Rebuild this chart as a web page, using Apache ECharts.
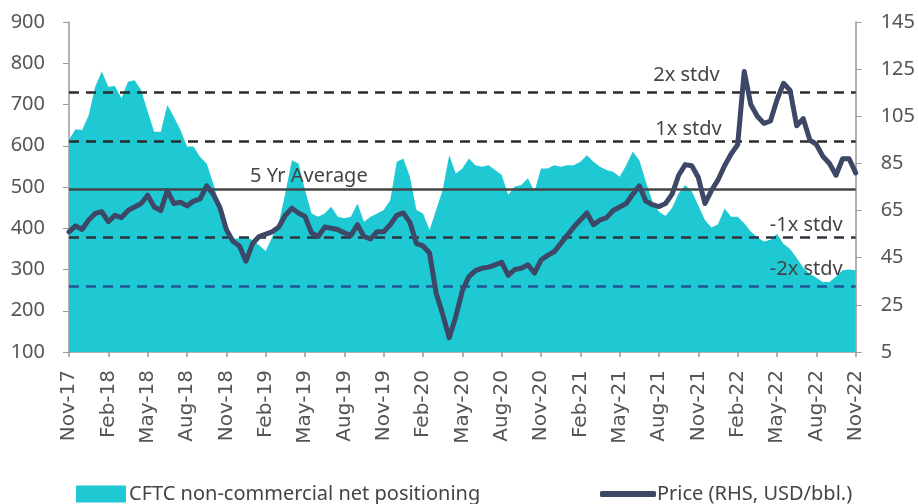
<!DOCTYPE html>
<html>
<head>
<meta charset="utf-8">
<script src="https://cdn.jsdelivr.net/npm/echarts@6.0.0/dist/echarts.min.js"></script>
<style>
  html, body { margin: 0; padding: 0; background: #fff; }
  #chart { width: 918px; height: 504px; }
</style>
</head>
<body>
<div id="chart"></div>
<script>
// half-monthly points, Nov-17 .. Nov-22
const MONTHS = ['Jan', 'Feb', 'Mar', 'Apr', 'May', 'Jun', 'Jul', 'Aug', 'Sep', 'Oct', 'Nov', 'Dec']
const periods = []
for (let m = 0; m <= 60; m++) {
  const label = MONTHS[(10 + m) % 12] + '-' + (17 + Math.floor((10 + m) / 12))
  periods.push(label)
  if (m < 60) periods.push(label + ' (mid)')
}

// CFTC non-commercial net positioning (LHS)
const positioning = [
  615, 640, 638, 674, 743, 780, 743, 745, 715, 755,
  759, 735, 683, 634, 634, 699, 670, 638, 598, 598,
  573, 557, 509, 452, 396, 375, 375, 380, 371, 359,
  345, 379, 412, 485, 565, 557, 493, 436, 428, 436,
  452, 428, 424, 428, 460, 416, 428, 436, 444, 468,
  561, 569, 525, 444, 436, 396, 444, 493, 577, 533,
  545, 569, 553, 549, 553, 541, 529, 481, 501, 505,
  521, 489, 545, 545, 553, 549, 553, 553, 561, 577,
  561, 549, 541, 537, 525, 553, 586, 565, 512, 465,
  440, 430, 450, 485, 505, 490, 455, 420, 402, 410,
  448, 428, 428, 412, 392, 378, 368, 372, 386, 362,
  350, 328, 305, 290, 280, 270, 270, 283, 298, 300,
  298
]

// Price (RHS, USD/bbl.)
const price = [
  56, 58.5, 57, 61, 63.8, 64.5, 60.3, 63, 62, 65,
  66.5, 68, 71.5, 66.5, 65, 73.5, 68, 68.5, 67, 69,
  70, 75.5, 72, 66.5, 57, 52, 50, 43.5, 51, 54,
  55, 56, 58, 63, 66, 64, 62.5, 55.5, 54, 58,
  57.5, 57, 55.5, 54.5, 59, 54, 53, 56, 56, 59,
  63, 64, 60, 51, 50, 47, 30, 21, 11, 20,
  31, 37, 39.5, 40.5, 41, 42, 43, 37.5, 40, 40.5,
  42, 38.5, 44, 46, 47.5, 51, 54.5, 58, 61, 64,
  59, 61, 62, 65, 66.5, 68, 72, 75.5, 69, 67.5,
  66.7, 68, 72, 80, 84.5, 84, 79, 68, 73.5, 78,
  84, 89, 93, 124, 110, 105, 102, 103, 112, 119,
  116, 101, 104, 95, 93, 88, 85, 80, 87, 87,
  81
]

// reference levels on the positioning axis
const refLevels = [730, 612, 495, 378, 260]
const refNames = ['2x stdv', '1x stdv', '5 Yr Average', '-1x stdv', '-2x stdv']

const refLook = [
  { type: [10, 7], color: '#2b2b2b', pos: 'insideEndTop', dist: [136, 7] },
  { type: [10, 7], color: '#2b2b2b', pos: 'insideEndTop', dist: [134, 2] },
  { type: 'solid', color: '#454545', pos: 'insideStartTop', dist: [181, 3] },
  { type: [10, 7], color: '#2e3540', pos: 'insideEndTop', dist: [13, 2] },
  { type: [10, 7], color: '#1f5694', pos: 'insideEndTop', dist: [13, 7] }
]

const teal = '#1fc9d3'
const navy = '#3c4866'
const axisGrey = '#9a9a9a'
const textGrey = '#555'

const chart = echarts.init(document.getElementById('chart'))

const option = {
  animation: false,
  backgroundColor: '#fff',
  grid: { left: 69, right: 61, top: 22, bottom: 152 },
  legend: [
    {
      left: 71,
      top: 479,
      itemWidth: 50,
      itemHeight: 17,
      itemGap: 5,
      data: [{ name: 'CFTC non-commercial net positioning', icon: 'rect' }],
      textStyle: { color: '#444', fontSize: 20, fontFamily: 'Noto Sans', padding: [0, 0, 0, -2] }
    },
    {
      left: 595,
      top: 479,
      itemWidth: 56,
      itemHeight: 6,
      data: [{ name: 'Price (RHS, USD/bbl.)', icon: 'roundRect', itemStyle: { color: navy } }],
      textStyle: { color: '#444', fontSize: 20, fontFamily: 'Noto Sans', padding: [0, 0, 0, -4] }
    }
  ],
  xAxis: {
    type: 'category',
    data: periods,
    boundaryGap: false,
    axisLine: { lineStyle: { color: axisGrey, width: 1.5 } },
    axisTick: { interval: 5, length: 5, lineStyle: { color: axisGrey, width: 1.5 } },
    axisLabel: {
      interval: 5,
      rotate: 90,
      margin: 18,
      color: textGrey,
      fontSize: 20,
      fontFamily: 'DejaVu Sans'
    },
    splitLine: { show: false }
  },
  yAxis: [
    {
      type: 'value',
      min: 100,
      max: 900,
      interval: 100,
      axisLine: { show: true, lineStyle: { color: axisGrey, width: 1.5 } },
      axisTick: { show: true, length: 6, lineStyle: { color: axisGrey } },
      axisLabel: { color: textGrey, fontSize: 20, fontFamily: 'Noto Sans', margin: 24 },
      splitLine: { show: false }
    },
    {
      type: 'value',
      min: 5,
      max: 145,
      interval: 20,
      position: 'right',
      axisLine: { show: true, lineStyle: { color: axisGrey, width: 1.5 } },
      axisTick: { show: true, length: 6, lineStyle: { color: axisGrey } },
      axisLabel: { color: textGrey, fontSize: 20, fontFamily: 'Noto Sans', margin: 25 },
      splitLine: { show: false }
    }
  ],
  series: [
    {
      name: 'CFTC non-commercial net positioning',
      type: 'line',
      yAxisIndex: 0,
      data: positioning,
      symbol: 'none',
      z: 1,
      itemStyle: { color: teal },
      lineStyle: { width: 0, color: teal },
      areaStyle: { color: teal, opacity: 1 },
      markLine: {
        silent: true,
        symbol: 'none',
        z: 2,
        data: refLevels.map((v, i) => ({
          yAxis: v,
          name: refNames[i],
          lineStyle: { type: refLook[i].type, color: refLook[i].color, width: 2.5 },
          label: {
            show: true,
            formatter: refNames[i],
            position: refLook[i].pos,
            distance: refLook[i].dist,
            color: '#444',
            fontSize: 20,
            fontFamily: 'Noto Sans'
          }
        }))
      }
    },
    {
      name: 'Price (RHS, USD/bbl.)',
      type: 'line',
      yAxisIndex: 1,
      data: price,
      symbol: 'none',
      z: 3,
      itemStyle: { color: navy },
      lineStyle: { width: 5, color: navy, cap: 'round', join: 'round' }
    }
  ]
}

chart.setOption(option)
</script>
</body>
</html>
